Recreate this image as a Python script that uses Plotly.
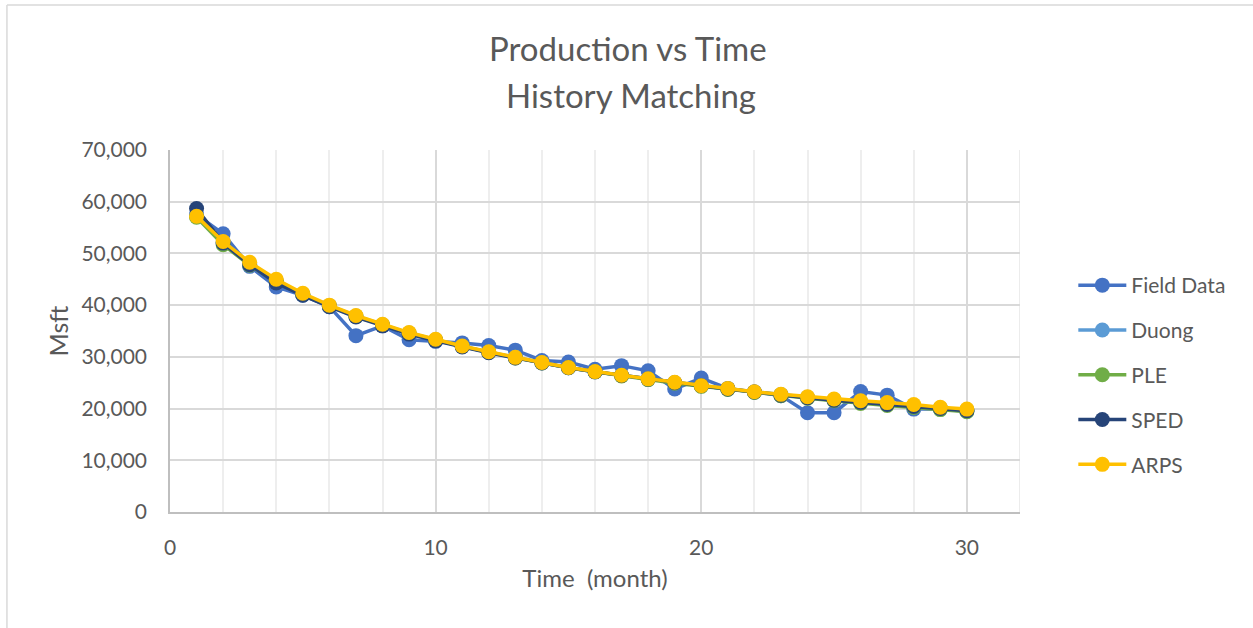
import plotly.graph_objects as go

months = list(range(1, 31))

field_data = [57500, 53800, 47500, 43500, 41900, 39700, 34100, 36000, 33300, 33000,
              32700, 32200, 31300, 29300, 29000, 27600, 28300, 27300, 23800, 25900,
              23900, 23200, 22500, 19200, 19200, 23300, 22600, 19900, 19900, 19500]
duong = [57300, 52100, 48000, 44700, 42100, 39900, 37900, 36200, 34600, 33300,
         32000, 30900, 29900, 28900, 27900, 27100, 26400, 25700, 25000, 24400,
         23800, 23200, 22700, 22200, 21700, 21300, 20900, 20500, 20100, 19700]
ple = [57000, 51700, 47700, 44500, 42000, 39800, 37800, 36100, 34500, 33200,
       32000, 30900, 29800, 28800, 27900, 27100, 26300, 25600, 24900, 24300,
       23700, 23100, 22500, 22000, 21500, 21000, 20600, 20200, 19800, 19400]
sped = [58700, 52000, 47800, 44300, 41900, 39700, 37700, 36000, 34400, 33100,
        31900, 30800, 29800, 28800, 27900, 27100, 26400, 25700, 25000, 24400,
        23800, 23200, 22600, 22100, 21600, 21200, 20800, 20400, 20000, 19600]
arps = [57200, 52300, 48300, 45000, 42300, 40000, 38000, 36300, 34700, 33400,
        32100, 31000, 29900, 28900, 27950, 27150, 26450, 25750, 25100, 24400,
        23900, 23250, 22750, 22300, 21850, 21500, 21150, 20800, 20250, 19900]

series = [
    ("Field Data", field_data, "#4472C4"),
    ("Duong", duong, "#5B9BD5"),
    ("PLE", ple, "#70AD47"),
    ("SPED", sped, "#264478"),
    ("ARPS", arps, "#FFC000"),
]

x_ticks = [0, 10, 20, 30]
y_ticks = [0, 10000, 20000, 30000, 40000, 50000, 60000, 70000]

FONT = "Lato, 'Open Sans', sans-serif"
TXT = "#595959"

fig = go.Figure()
for name, vals, color in series:
    fig.add_trace(go.Scatter(
        x=months, y=vals, name=name, mode="lines+markers",
        legendgroup=name,
        line=dict(color=color, width=3.5),
        marker=dict(color=color, size=15, line=dict(width=0)),
    ))

W, H = 1253, 628
L, R, T, B = 170, 1019.7, 150, 512
pw, ph = R - L, B - T

def px(x):
    return (x - L) / pw

def py(y):
    return (B - y) / ph

fig.update_layout(
    width=W, height=H,
    margin=dict(l=L, r=W - R, t=T, b=H - B, pad=0),
    paper_bgcolor="white", plot_bgcolor="white",
    font=dict(family=FONT, color=TXT, size=21),
    showlegend=True,
    legend=dict(
        x=px(1073), y=py(265), xanchor="left", yanchor="top",
        font=dict(size=21, color=TXT, family=FONT),
        tracegroupgap=14.5, itemwidth=48,
        bgcolor="rgba(0,0,0,0)",
    ),
    xaxis=dict(
        range=[0, 32], tickvals=x_ticks, ticktext=[str(v) for v in x_ticks],
        showgrid=True, gridcolor="#D9D9D9", gridwidth=1.5,
        minor=dict(dtick=2, tick0=0, showgrid=True, gridcolor="#EEEEEE", gridwidth=1.5),
        showline=True, linecolor="#BFBFBF", linewidth=1.5,
        ticks="", ticklabelstandoff=16, zeroline=False,
        tickfont=dict(size=21, color=TXT, family=FONT),
        title=dict(text="Time  (month)", font=dict(size=24, color=TXT, family=FONT), standoff=12),
        mirror=False,
    ),
    yaxis=dict(
        range=[0, 70000], tickvals=y_ticks, tickformat=",d",
        showgrid=True, gridcolor="#D9D9D9", gridwidth=1.5,
        showline=True, linecolor="#BFBFBF", linewidth=1.5,
        ticks="", ticklabelstandoff=17, zeroline=False,
        tickfont=dict(size=21, color=TXT, family=FONT),
        title=dict(text="Msft", font=dict(size=25, color=TXT, family=FONT), standoff=6),
    ),
    annotations=[
        dict(text="Production vs Time", xref="paper", yref="paper",
             x=px(628), y=py(48), xanchor="center", yanchor="middle",
             showarrow=False, font=dict(size=33, color=TXT, family=FONT)),
        dict(text="History Matching", xref="paper", yref="paper",
             x=px(631), y=py(95), xanchor="center", yanchor="middle",
             showarrow=False, font=dict(size=33, color=TXT, family=FONT)),
    ],
    shapes=[
        dict(type="line", xref="paper", yref="paper", x0=px(7), x1=px(7),
             y0=py(5), y1=py(640), line=dict(color="#D9D9D9", width=1.5), layer="below"),
        dict(type="line", xref="paper", yref="paper", x0=px(7), x1=px(1260),
             y0=py(5), y1=py(5), line=dict(color="#D9D9D9", width=1.5), layer="below"),
        dict(type="line", xref="x", yref="y", x0=32, x1=32, y0=0, y1=70000,
             line=dict(color="#E6E6E6", width=1.5), layer="below"),
    ],
)

fig.write_html("out.html")
